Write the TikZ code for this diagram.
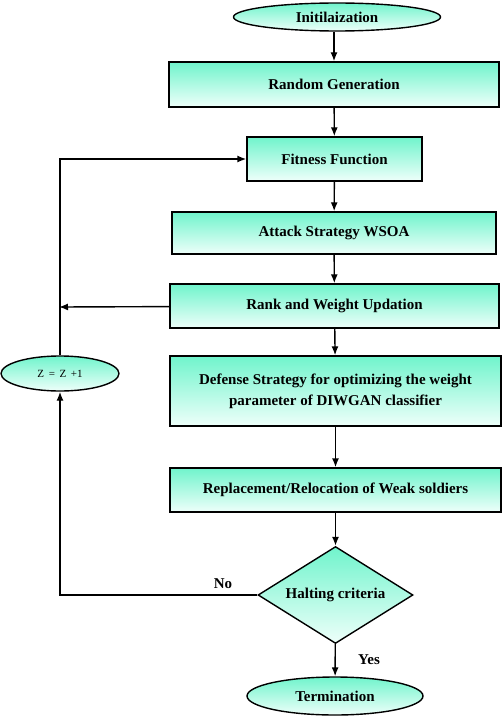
\documentclass[tikz,border=0pt]{standalone}
\usepackage{fontspec}
\setmainfont{Liberation Serif}
\usetikzlibrary{shapes.geometric,arrows.meta}
\definecolor{wsotop}{RGB}{112,244,204}
\definecolor{wsobot}{RGB}{238,255,250}
\begin{document}
\begin{tikzpicture}[x=1pt, y=-1pt]
        \tikzset{
        wso fill/.style={draw,line width=1.4pt,top color=wsotop,bottom color=wsobot,
                         font=\fontsize{15}{21}\selectfont\bfseries,align=center,inner sep=0},
        wso box/.style={wso fill,rectangle},
        wso oval/.style={wso fill,ellipse},
        wso test/.style={wso fill,diamond,aspect=1.6},
        wso edge/.style={-{Latex[length=9pt,width=7pt]},line width=1.4pt},
        wso label/.style={font=\fontsize{15}{17}\selectfont\bfseries}
        }
        \useasboundingbox (0,0) rectangle (503,717);
        \node[wso oval, minimum width=207, minimum height=28] (init) at (337,17) {Initilaization};
        \node[wso box, minimum width=330, minimum height=45] (rand) at (334,84.5) {Random Generation};
        \node[wso box, minimum width=175, minimum height=44] (fit) at (334.5,159) {Fitness Function};
        \node[wso box, minimum width=324, minimum height=42] (att) at (334,233) {Attack Strategy WSOA};
        \node[wso box, minimum width=329, minimum height=44] (rank) at (334.5,306) {Rank and Weight Updation};
        \node[wso box, minimum width=331, minimum height=70] (def) at (335.5,391)
            {Defense Strategy for optimizing the weight\\parameter of DIWGAN classifier};
        \node[wso box, minimum width=331, minimum height=44] (rep) at (335.5,490) {Replacement/Relocation of Weak soldiers};
        \node[wso test, minimum width=155, minimum height=97] (halt) at (335.5,595) {Halting criteria};
        \node[wso oval, minimum width=176, minimum height=38] (term) at (335,696) {Termination};
        \node[wso oval, minimum width=118, minimum height=35, font=\fontsize{11}{13}\selectfont] (inc) at (60,373.5) {Z\, =\, Z\, +1};
        \coordinate (back) at (59,307);
        \node[wso label] (no) at (223,584) {No};
        \node[wso label] (yes) at (369,660) {Yes};

        \path
        (init.south -| rand.north) edge[wso edge] (rand)
        (rand) edge[wso edge] (fit)
        (fit) edge[wso edge] (att)
        (att) edge[wso edge] (rank)
        (rank) edge[wso edge] (def)
        (def) edge[wso edge] (rep)
        (rep) edge[wso edge] (halt)
        (halt) edge[wso edge] (term)
        (rank) edge[wso edge] (back)
        (halt.west) edge[wso edge, to path={-| (\tikztotarget)}] (inc)
        (inc) edge[wso edge, to path={|- (\tikztotarget)}] (fit)
        ;
    \end{tikzpicture}
\end{document}
